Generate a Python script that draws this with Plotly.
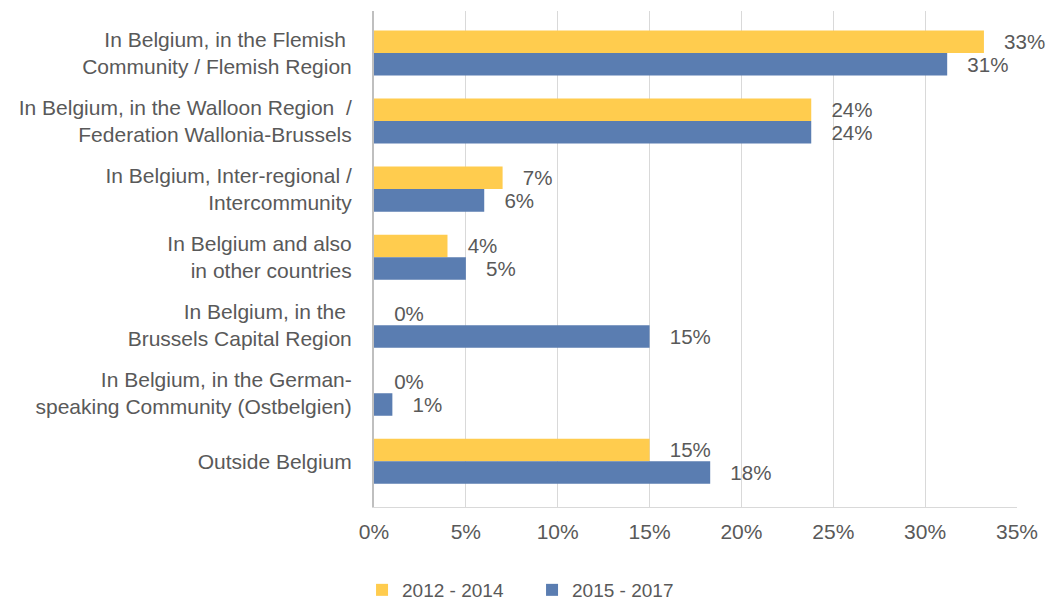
import plotly.graph_objects as go

categories = [
    "In Belgium, in the Flemish <br>Community / Flemish Region",
    "In Belgium, in the Walloon Region  /<br>Federation Wallonia-Brussels",
    "In Belgium, Inter-regional /<br>Intercommunity",
    "In Belgium and also<br>in other countries",
    "In Belgium, in the <br>Brussels Capital Region",
    "In Belgium, in the German-<br>speaking Community (Ostbelgien)",
    "Outside Belgium",
]
series_2012_2014 = [33.2, 23.8, 7.0, 4.0, 0.0, 0.0, 15.0]
series_2015_2017 = [31.2, 23.8, 6.0, 5.0, 15.0, 1.0, 18.3]
x_ticks = [0, 5, 10, 15, 20, 25, 30, 35]
x_tick_labels = ["0%", "5%", "10%", "15%", "20%", "25%", "30%", "35%"]

FONT = "Liberation Sans, Arial, sans-serif"
GREY = "#595959"

fig = go.Figure()
fig.add_trace(go.Bar(
    y=categories, x=series_2012_2014, orientation="h", name="2012 - 2014",
    marker=dict(color="#FFCC4E", line=dict(width=0)),
    texttemplate="   %{x:.0f}%", textposition="outside",
    textfont=dict(size=21, color=GREY, family=FONT), cliponaxis=False,
))
fig.add_trace(go.Bar(
    y=categories, x=series_2015_2017, orientation="h", name="2015 - 2017",
    marker=dict(color="#5A7DB1", line=dict(width=0)),
    texttemplate="   %{x:.0f}%", textposition="outside",
    textfont=dict(size=21, color=GREY, family=FONT), cliponaxis=False,
))

fig.update_layout(
    width=1049, height=595,
    margin=dict(l=366, r=40, t=3, b=96, autoexpand=False),
    paper_bgcolor="white", plot_bgcolor="white",
    barmode="group", bargap=0.338, bargroupgap=0,
    font=dict(family=FONT, size=21, color=GREY),
    legend=dict(orientation="h", xref="container", yref="container",
                x=0.3375, xanchor="left", y=1 - 582 / 595, yanchor="middle",
                font=dict(size=19, color=GREY, family=FONT),
                traceorder="normal", entrywidth=125, entrywidthmode="pixels"),
    showlegend=True,
    uniformtext=dict(mode=False),
)
fig.update_xaxes(
    range=[0, 35], tickvals=x_ticks, ticktext=x_tick_labels,
    showgrid=True, gridcolor="#D9D9D9", gridwidth=1.3,
    showline=True, linecolor="#D9D9D9", linewidth=1.3,
    zeroline=False, ticks="", tickfont=dict(size=21, color=GREY),
    ticklabelstandoff=6, automargin=False,
)
fig.update_yaxes(
    range=[6.672, -0.618], showgrid=False, showline=True,
    linecolor="#BFBFBF", linewidth=2, ticks="",
    tickfont=dict(size=21, color=GREY), ticklabelstandoff=16, automargin=False,
)

fig.write_html("out.html")
